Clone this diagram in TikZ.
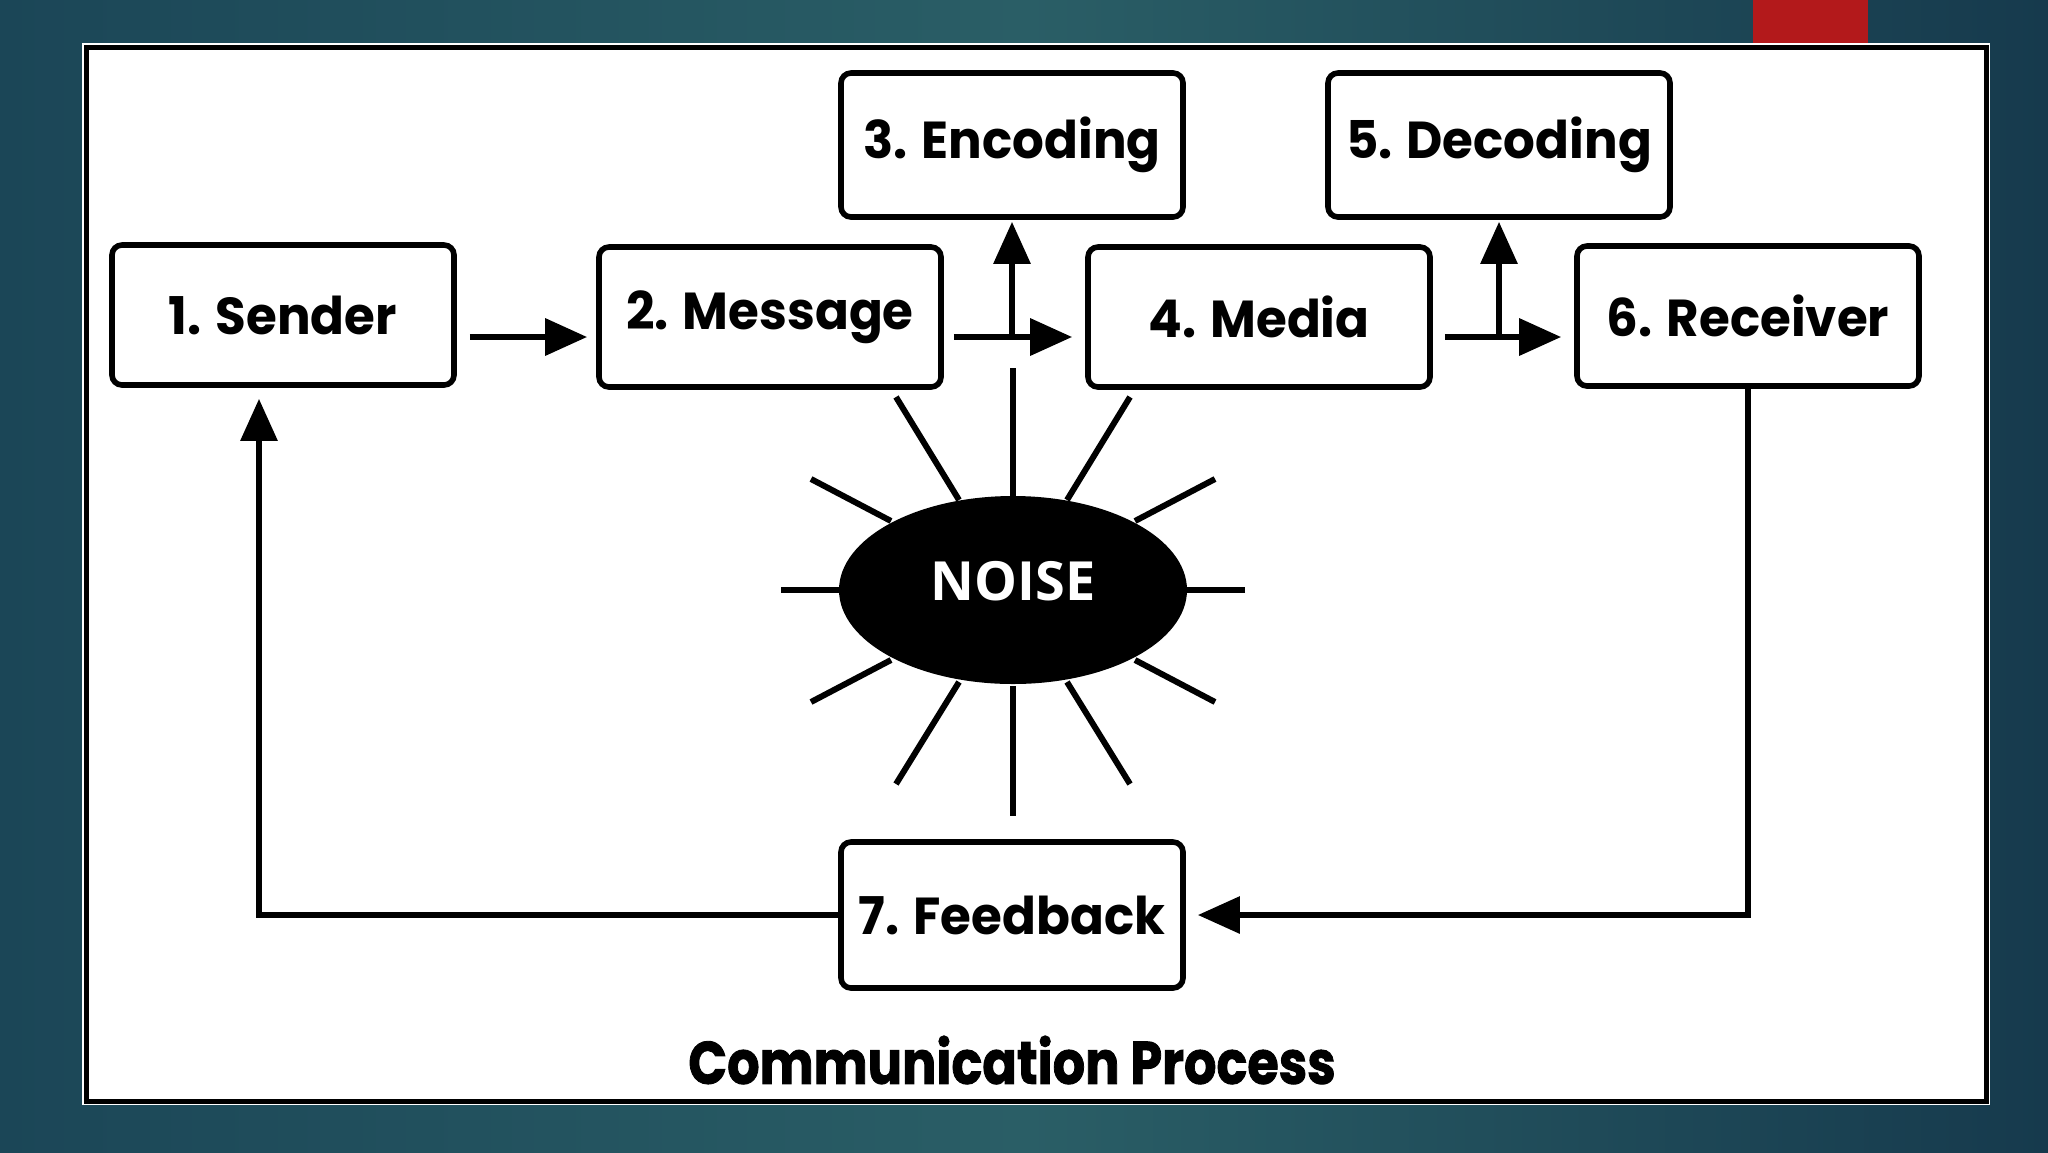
\documentclass[tikz,border=0pt]{standalone}
\usepackage{graphicx}
\usepackage{fontspec}
\setmainfont{Poppins}
\newfontfamily\titlefont[BoldFeatures={FakeBold=1.5}]{Poppins}
\newfontfamily\noisefont{Open Sans}
\usetikzlibrary{arrows.meta,calc,shapes.geometric}
\definecolor{bgL}{HTML}{1B4657}
\definecolor{bgM}{HTML}{2A5E66}
\definecolor{bgR}{HTML}{163A4D}
\definecolor{redbar}{HTML}{B3191B}
\newcommand{\bx}[1]{\scalebox{0.96}[1]{#1}}
\begin{document}
\begin{tikzpicture}[x=0.5pt,y=-0.5pt,
  box/.style={draw=black, line width=2.8pt, rounded corners=5pt, fill=white,
    minimum width=171pt, minimum height=70pt, inner sep=0pt,
    font=\fontsize{26}{30}\selectfont\bfseries},
  harrow/.style={line width=3.2pt, -{Triangle[length=21pt,width=18pt]}},
  varrow/.style={line width=3pt, -{Triangle[length=21pt,width=18pt]}},
  farrow/.style={line width=3pt, -{Triangle[length=21pt,width=18pt]}},
  ray/.style={line width=3pt}]
\shade[left color=bgL, right color=bgR, middle color=bgM] (0,0) rectangle (2048,1152);
\useasboundingbox (0,0) rectangle (2048,1152);
\fill[redbar] (1753,0) rectangle (1868,43);
\fill[white] (82,43) rectangle (1990,1105);
\draw[line width=2.5pt] (86,47) rectangle (1986,1101);
% boxes
\node[box] (sender) at (283,315) {\bx{1. Sender}};
\node[box] (msg) at (770,317) {\bx{2. Message}};
\node[box, minimum height=72pt] (enc) at (1012,145) {\bx{3. Encoding}};
\node[box] (media) at (1259,317) {\bx{4. Media}};
\node[box, minimum height=72pt] (dec) at (1499,145) {\bx{5. Decoding}};
\node[box] (rec) at (1748,316) {\bx{6. Receiver}};
\node[box, minimum height=73pt] (fb) at (1012,915) {\bx{7. Feedback}};
% noise
\node[ellipse, fill=black, minimum width=174pt, minimum height=94pt, inner sep=0pt] (noise) at (1013,590) {};
\node[text=white, inner sep=0pt, font=\noisefont\bfseries\fontsize{27}{30}\selectfont] (noiselabel) at ($(noise.center)+(0,-9)$) {NOISE};
\foreach \a/\b/\c/\d in {0/-222/0/-94, -117/-193/-54/-90, 117/-193/54/-90,
  -202/-111/-122/-69, 202/-111/122/-69, -232/0/-173/0, 232/0/173/0,
  -202/112/-122/70, 202/112/122/70, -117/194/-54/92, 117/194/54/92, 0/96/0/226}
  \draw[ray] ($(noise.center)+(\a,\b)$) -- ($(noise.center)+(\c,\d)$);
% arrows
\coordinate (ay) at (0,337);
\draw[harrow] ($(sender.east|-ay)+(13,0)$) -- ($(msg.west|-ay)+(-9,0)$);
\draw[harrow] ($(msg.east|-ay)+(10,0)$) -- ($(media.west|-ay)+(-13,0)$);
\draw[harrow] ($(media.east|-ay)+(12,0)$) -- ($(rec.west|-ay)+(-13,0)$);
\coordinate (j1) at (enc.south|-ay);
\coordinate (j2) at (dec.south|-ay);
\draw[varrow] (j1) -- ($(enc.south)+(0,2)$);
\draw[varrow] (j2) -- ($(dec.south)+(0,2)$);
\draw[farrow] (rec.south) |- ($(fb.east)+(12,0)$);
\draw[farrow] (fb.west) -| ($(sender.south)+(-24,11)$);
% title
\node[inner sep=0pt, font=\titlefont\fontsize{30}{34}\selectfont\bfseries] (title) at (1012,1060) {\scalebox{0.85}[1]{Communication Process}};
\end{tikzpicture}
\end{document}
